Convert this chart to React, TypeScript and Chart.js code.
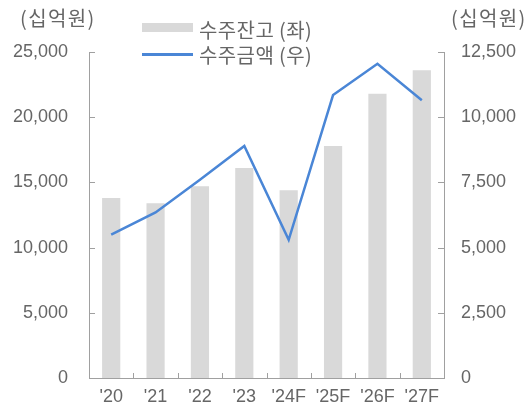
import React, { useEffect, useRef } from "react";
import { Chart, registerables } from "chart.js";

Chart.register(...registerables);

const categories = ["'20", "'21", "'22", "'23", "'24F", "'25F", "'26F", "'27F"];
const backlog = [13800, 13400, 14700, 16100, 14400, 17800, 21800, 23600];
const orderAmount = [5500, 6350, 7600, 8900, 5300, 10850, 12050, 10650];
const leftMax = 25000;
const leftStep = 5000;
const rightMax = 12500;
const rightStep = 2500;
const unitLabel = "(십억원)";
const backlogLabel = "수주잔고 (좌)";
const orderLabel = "수주금액 (우)";

const BAR_COLOR = "#d9d9d9";
const LINE_COLOR = "#4a86d6";
const AXIS_COLOR = "#a0a0a0";
const TEXT_COLOR = "#666666";
const NUM_FONT = "'Liberation Sans', Arial, sans-serif";
const KR_FONT = "'Noto Sans CJK KR', 'Noto Sans', sans-serif";

const innerTicks = {
  id: "innerTicks",
  afterDraw(chart: any) {
    const ctx = chart.ctx;
    const { left, right, bottom } = chart.chartArea;
    ctx.save();
    ctx.strokeStyle = AXIS_COLOR;
    ctx.lineWidth = 1;
    const line = (x1: number, y1: number, x2: number, y2: number) => {
      ctx.beginPath();
      ctx.moveTo(x1, y1);
      ctx.lineTo(x2, y2);
      ctx.stroke();
    };
    const yl = chart.scales.yL;
    yl.ticks.forEach((t: any) => {
      const y = Math.round(yl.getPixelForValue(t.value)) + 0.5;
      line(left, y, left + 6, y);
    });
    const yr = chart.scales.yR;
    yr.ticks.forEach((t: any) => {
      const y = Math.round(yr.getPixelForValue(t.value)) + 0.5;
      line(right, y, right - 6, y);
    });
    const xs = chart.scales.x;
    for (let i = 1; i < categories.length; i++) {
      const bx = Math.round((xs.getPixelForValue(i - 1) + xs.getPixelForValue(i)) / 2) + 0.5;
      line(bx, bottom, bx, bottom - 5);
    }
    ctx.restore();
  },
};

export default function App() {
  const ref = useRef<HTMLCanvasElement | null>(null);

  useEffect(() => {
    if (!ref.current) return;
    const fmt = (v: any) => Number(v).toLocaleString("en-US");
    const chart = new Chart(ref.current, {
      type: "bar",
      data: {
        labels: categories,
        datasets: [
          {
            type: "line",
            label: orderLabel,
            data: orderAmount,
            yAxisID: "yR",
            borderColor: LINE_COLOR,
            backgroundColor: LINE_COLOR,
            borderWidth: 2.5,
            pointRadius: 0,
            tension: 0,
            order: 0,
          } as any,
          {
            type: "bar",
            label: backlogLabel,
            data: backlog,
            yAxisID: "yL",
            backgroundColor: BAR_COLOR,
            barPercentage: 0.41,
            categoryPercentage: 1,
            order: 1,
          } as any,
        ],
      },
      options: {
        animation: false,
        responsive: true,
        maintainAspectRatio: false,
        layout: { padding: { top: 52, left: 0, right: 0, bottom: 0 } },
        plugins: { legend: { display: false }, tooltip: { enabled: false } },
        scales: {
          x: {
            grid: { display: false, tickLength: 0 },
            border: { display: true, color: AXIS_COLOR },
            ticks: { color: TEXT_COLOR, font: { family: NUM_FONT, size: 18 }, padding: 8, maxRotation: 0 },
            afterFit: (s: any) => { s.height = 32; },
          },
          yL: {
            position: "left",
            min: 0,
            max: leftMax,
            grid: { display: false, tickLength: 0 },
            border: { display: true, color: AXIS_COLOR },
            ticks: { stepSize: leftStep, color: TEXT_COLOR, font: { family: NUM_FONT, size: 18 }, padding: 21, callback: fmt },
            afterFit: (s: any) => { s.width = 89; },
          },
          yR: {
            position: "right",
            min: 0,
            max: rightMax,
            grid: { display: false, tickLength: 0 },
            border: { display: true, color: AXIS_COLOR },
            ticks: { stepSize: rightStep, color: TEXT_COLOR, font: { family: NUM_FONT, size: 18 }, padding: 17, callback: fmt },
            afterFit: (s: any) => { s.width = 82; },
          },
        },
      },
      plugins: [innerTicks],
    });
    return () => chart.destroy();
  }, []);

  const txt: React.CSSProperties = {
    position: "absolute",
    fontFamily: KR_FONT,
    fontSize: 20,
    letterSpacing: 0.4,
    lineHeight: "22px",
    color: TEXT_COLOR,
    whiteSpace: "nowrap",
  };
  const unit: React.CSSProperties = { ...txt, letterSpacing: 1.4, top: 7 };

  return (
    <div style={{ position: "absolute", left: 0, top: 0, width: 526, height: 410, background: "#fff" }}>
      <canvas ref={ref} width={526} height={410} />
      <div style={{ ...unit, left: 20 }}>{unitLabel}</div>
      <div style={{ ...unit, left: 451 }}>{unitLabel}</div>
      <div style={{ position: "absolute", left: 142, top: 23, width: 51, height: 9, background: BAR_COLOR }} />
      <div style={{ ...txt, left: 199, top: 19 }}>{backlogLabel}</div>
      <div style={{ position: "absolute", left: 142, top: 53, width: 51, height: 3, background: LINE_COLOR }} />
      <div style={{ ...txt, left: 199, top: 44 }}>{orderLabel}</div>
    </div>
  );
}
